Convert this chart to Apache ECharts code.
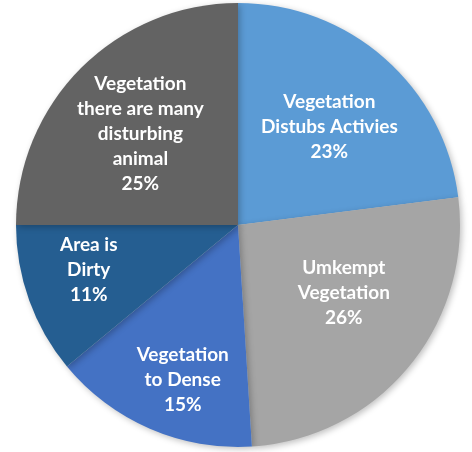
<!DOCTYPE html>
<html>
<head>
<meta charset="utf-8">
<style>
  html, body { margin: 0; padding: 0; background: #fff; }
  #chart { width: 472px; height: 452px; }
</style>
<script src="https://cdn.jsdelivr.net/npm/echarts@6/dist/echarts.min.js"></script>
</head>
<body>
<div id="chart"></div>
<script>
// 数据
var categories = [
  'Vegetation\nDistubs Activies',
  'Umkempt\nVegetation',
  'Vegetation\nto Dense',
  'Area is\nDirty',
  'Vegetation\nthere are many\ndisturbing\nanimal'
];
var values = [23, 26, 15, 11, 25];
var colors = ['#5B9BD5', '#A5A5A5', '#4472C4', '#255E91', '#636363'];
// label nudges (px) from the default mid-radius spot
var labelShift = [[16, -13], [18, -5], [-10, 50], [-42, 6], [-17, -11]];

var myChart = echarts.init(document.getElementById('chart'));
var option = {
  animation: false,
  color: colors,
  series: [
    {
      type: 'pie',
      center: [238, 225],
      radius: 222,
      startAngle: 90,
      clockwise: true,
      itemStyle: {
        shadowBlur: 6,
        shadowColor: 'rgba(0,0,0,0.25)',
        shadowOffsetX: 2,
        shadowOffsetY: 2
      },
      label: {
        show: true,
        position: 'inside',
        color: '#fff',
        fontFamily: 'Lato',
        fontWeight: 'bold',
        fontSize: 19,
        lineHeight: 25,
        align: 'center',
        formatter: function (p) {
          return p.name + '\n' + p.value + '%';
        }
      },
      labelLayout: function (p) {
        var s = labelShift[p.dataIndex];
        return { dx: s[0], dy: s[1] };
      },
      data: categories.map(function (c, i) {
        return { name: c, value: values[i] };
      })
    }
  ]
};
myChart.setOption(option);
</script>
</body>
</html>
